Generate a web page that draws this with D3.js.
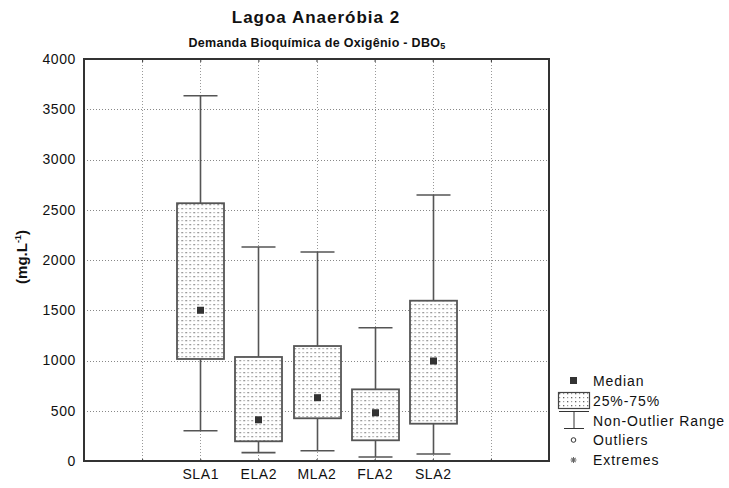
<!DOCTYPE html>
<meta charset="utf-8">
<script src="https://d3js.org/d3.v7.min.js"></script>
<style>
  body { margin: 0; background: #fff; }
  text { font-family: "Liberation Sans", Arial, sans-serif; fill: #111; }
</style>
<div id="chart"></div>
<script>
// data
const slots = ["e1", "e2", "SLA1", "ELA2", "MLA2", "FLA2", "SLA2", "e3", "e4"];
const groups = ["SLA1", "ELA2", "MLA2", "FLA2", "SLA2"];
const medians = [1500, 410, 630, 480, 995];
const q1 = [1015, 196, 425, 206, 371];
const q3 = [2565, 1035, 1144, 713, 1595];
const whiskerLow = [301, 83, 102, 40, 70];
const whiskerHigh = [3635, 2129, 2080, 1326, 2647];
const yTicks = [0, 500, 1000, 1500, 2000, 2500, 3000, 3500, 4000];

const W = 729, H = 488;
const margin = {top: 59, right: 180, bottom: 27, left: 84};
const width = W - margin.left - margin.right,
      height = H - margin.top - margin.bottom;
const font = '"Liberation Sans", Arial, sans-serif';

const svg = d3.select("#chart").append("svg")
  .attr("width", W).attr("height", H);

const defs = svg.append("defs");
const pat = defs.append("pattern")
  .attr("id", "dots").attr("patternUnits", "userSpaceOnUse")
  .attr("width", 8).attr("height", 8);
pat.append("rect").attr("width", 8).attr("height", 8).attr("fill", "#fff");
pat.append("rect").attr("x", 1).attr("y", 1).attr("width", 1.3).attr("height", 1.3).attr("fill", "#666");
pat.append("rect").attr("x", 5).attr("y", 5).attr("width", 1.3).attr("height", 1.3).attr("fill", "#666");
pat.append("rect").attr("x", 5).attr("y", 1).attr("width", 1.2).attr("height", 1.2).attr("fill", "#999");
pat.append("rect").attr("x", 1).attr("y", 5).attr("width", 1.2).attr("height", 1.2).attr("fill", "#999");

const g = svg.append("g").attr("transform", `translate(${margin.left},${margin.top})`);

const x = d3.scalePoint().domain(slots).range([0, width]);
const y = d3.scaleLinear().domain([0, 4000]).range([height, 0]);

// grid
g.append("g").selectAll("line").data(yTicks.slice(1, -1)).join("line")
  .attr("x1", 0).attr("x2", width)
  .attr("y1", d => Math.round(y(d)) + 0.5).attr("y2", d => Math.round(y(d)) + 0.5)
  .attr("stroke", "#888").attr("stroke-dasharray", "1,2");
g.append("g").selectAll("line").data(slots.slice(1, -1)).join("line")
  .attr("x1", d => Math.round(x(d)) + 0.5).attr("x2", d => Math.round(x(d)) + 0.5)
  .attr("y1", 0).attr("y2", height)
  .attr("stroke", "#999").attr("stroke-dasharray", "1,2");

// y axis labels
const yAxis = g.append("g")
  .call(d3.axisLeft(y).tickValues(yTicks).tickSize(0).tickPadding(8).tickFormat(d3.format("d")));
yAxis.select(".domain").remove();
yAxis.selectAll("text").attr("font-size", 14).attr("fill", "#111").attr("letter-spacing", 0.6)
  .style("font-family", font);

// x axis labels + ticks
const xAxis = g.append("g").attr("transform", `translate(0,${height})`)
  .call(d3.axisBottom(x).tickValues(slots.slice(1, -1)).tickSize(3)
    .tickFormat(d => groups.includes(d) ? d : ""));
xAxis.select(".domain").remove();
xAxis.selectAll("line").attr("stroke", "#333").attr("transform", "translate(0,-2)");
xAxis.selectAll("text").attr("font-size", 14).attr("fill", "#111").attr("dy", "0.85em")
  .attr("letter-spacing", 0.6).style("font-family", font);

const topTicks = g.append("g").call(d3.axisTop(x).tickValues(slots.slice(1, -1)).tickSize(-3).tickFormat(""));
topTicks.select(".domain").remove();
topTicks.selectAll("line").attr("stroke", "#333");

// frame
g.append("rect").attr("x", 0).attr("y", 0).attr("width", width).attr("height", height)
  .attr("fill", "none").attr("stroke", "#333").attr("stroke-width", 2);

// boxes
const boxW = 47, capW = 34, stroke = "#555";
const data = groups.map((k, i) => ({k, med: medians[i], lo: q1[i], hi: q3[i], wl: whiskerLow[i], wh: whiskerHigh[i]}));
const bx = g.append("g").selectAll("g").data(data).join("g")
  .attr("transform", d => `translate(${Math.round(x(d.k)) + 0.5},0)`);
bx.append("line").attr("y1", d => y(d.wh)).attr("y2", d => y(d.wl))
  .attr("stroke", stroke).attr("stroke-width", 1.6);
bx.append("line").attr("x1", -capW / 2).attr("x2", capW / 2)
  .attr("y1", d => y(d.wh)).attr("y2", d => y(d.wh)).attr("stroke", stroke).attr("stroke-width", 1.6);
bx.append("line").attr("x1", -capW / 2).attr("x2", capW / 2)
  .attr("y1", d => y(d.wl)).attr("y2", d => y(d.wl)).attr("stroke", stroke).attr("stroke-width", 1.6);
bx.append("rect").attr("x", -boxW / 2).attr("width", boxW)
  .attr("y", d => y(d.hi)).attr("height", d => y(d.lo) - y(d.hi))
  .attr("fill", "url(#dots)").attr("stroke", stroke).attr("stroke-width", 1.8);
bx.append("rect").attr("x", -3.5).attr("width", 7).attr("height", 7)
  .attr("y", d => y(d.med) - 3.5).attr("fill", "#333");

// titles
svg.append("text").attr("x", 316).attr("y", 23).attr("text-anchor", "middle")
  .attr("font-size", 17).attr("font-weight", "bold").attr("letter-spacing", 1)
  .text("Lagoa Anaeróbia 2");
const sub = svg.append("text").attr("x", 317).attr("y", 47).attr("text-anchor", "middle")
  .attr("font-size", 12.5).attr("font-weight", "bold").attr("letter-spacing", 0.3);
sub.append("tspan").text("Demanda Bioquímica de Oxigênio - DBO");
sub.append("tspan").attr("font-size", 9).attr("dy", 2).text("5");

// y label
const yl = svg.append("text").attr("transform", "translate(27,257) rotate(-90)")
  .attr("text-anchor", "middle").attr("font-size", 15).attr("font-weight", "bold");
yl.append("tspan").text("(mg.L");
yl.append("tspan").attr("font-size", 9).attr("dy", -6).text("-1");
yl.append("tspan").attr("dy", 6).text(")");

// legend
const lg = svg.append("g").attr("transform", "translate(558,0)");
const lt = 35, fs = 14, ls = 0.9;
lg.append("rect").attr("x", 12).attr("y", 377).attr("width", 7).attr("height", 7).attr("fill", "#333");
lg.append("text").attr("x", lt).attr("y", 386).attr("font-size", fs).attr("letter-spacing", ls).text("Median");
lg.append("rect").attr("x", 0.5).attr("y", 392.5).attr("width", 31).attr("height", 16)
  .attr("fill", "url(#dots)").attr("stroke", "#444").attr("stroke-width", 1.2);
lg.append("text").attr("x", lt).attr("y", 406).attr("font-size", fs).attr("letter-spacing", ls).text("25%-75%");
lg.append("line").attr("x1", 1).attr("x2", 31).attr("y1", 411.5).attr("y2", 411.5).attr("stroke", "#333");
lg.append("line").attr("x1", 16).attr("x2", 16).attr("y1", 411.5).attr("y2", 428).attr("stroke", "#333");
lg.append("line").attr("x1", 6).attr("x2", 26).attr("y1", 428.5).attr("y2", 428.5).attr("stroke", "#333");
lg.append("text").attr("x", lt).attr("y", 426).attr("font-size", fs).attr("letter-spacing", ls).text("Non-Outlier Range");
lg.append("circle").attr("cx", 15.5).attr("cy", 440).attr("r", 2.3)
  .attr("fill", "none").attr("stroke", "#333").attr("stroke-width", 1);
lg.append("text").attr("x", lt).attr("y", 445).attr("font-size", fs).attr("letter-spacing", ls).text("Outliers");
// asterisk symbol for extremes
const ast = lg.append("g").attr("transform", "translate(15.5,460)").attr("stroke", "#666").attr("stroke-width", 1);
[0, 45, 90, 135].forEach(a => ast.append("line").attr("x1", -3).attr("x2", 3).attr("transform", `rotate(${a})`));
lg.append("text").attr("x", lt).attr("y", 465).attr("font-size", fs).attr("letter-spacing", ls).text("Extremes");
</script>
